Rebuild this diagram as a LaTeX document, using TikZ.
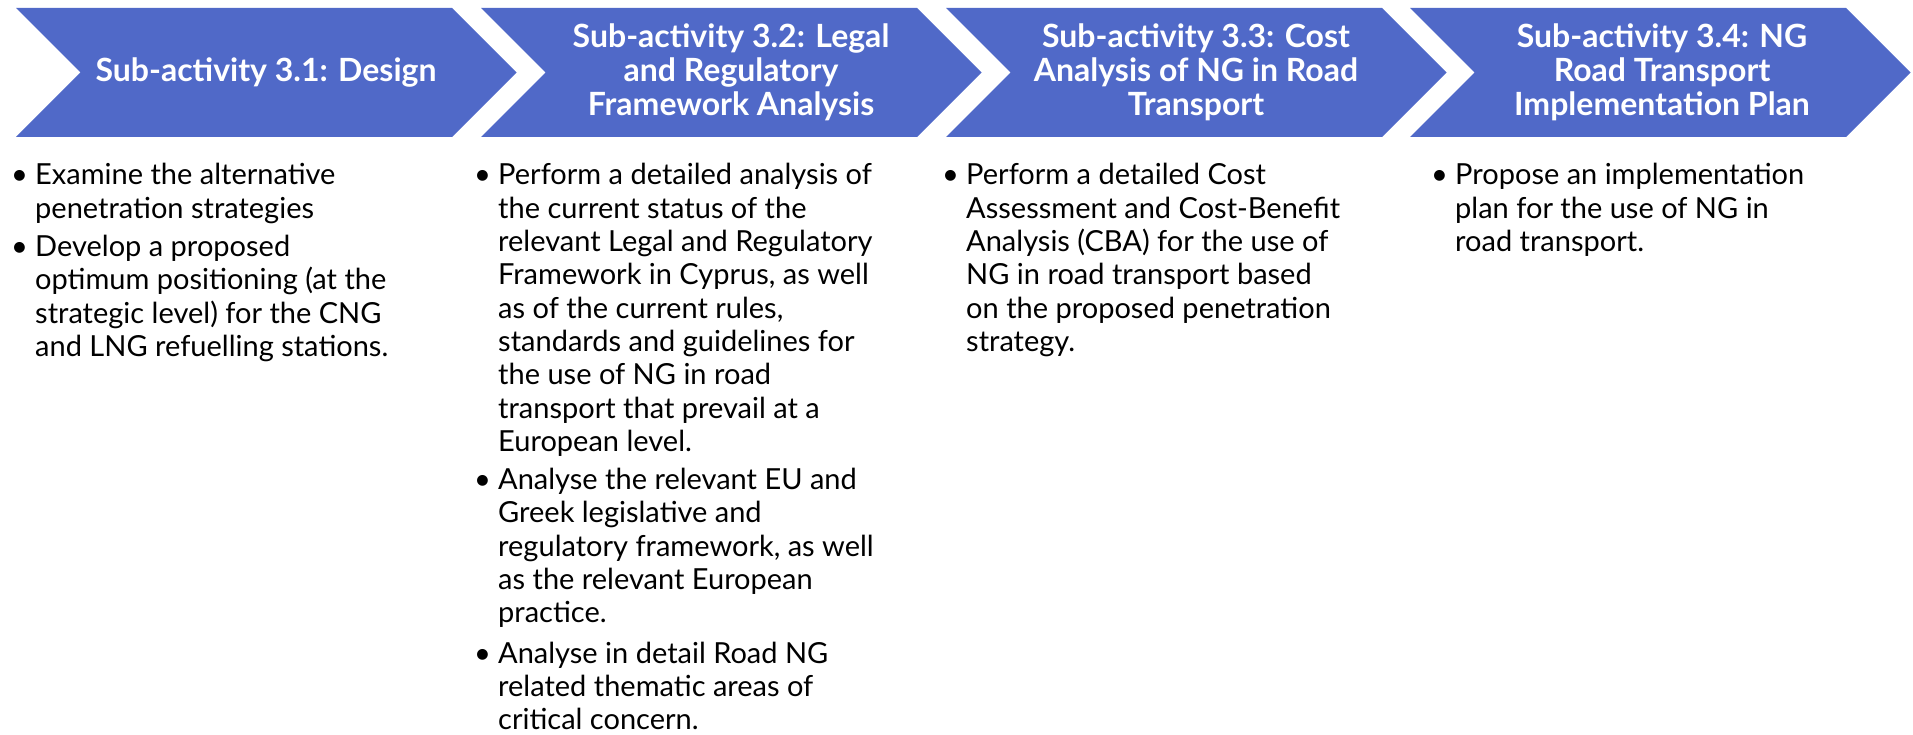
\documentclass[tikz,border=0pt]{standalone}
\usepackage{fontspec}
\setmainfont{Lato}
\usepackage{xcolor}
\definecolor{chevblue}{RGB}{80,105,200}

\newcommand{\chev}[1]{\fill[chevron] (#1,8) -- ++(436,0) -- ++(64.5,64.5) -- ++(-64.5,64.5) -- ++(-436,0) -- ++(64.5,-64.5) -- cycle;}
\newcommand{\itm}{\textbullet}

\begin{document}
\begin{tikzpicture}[
    x=1pt, y=-1pt,
    chevron/.style={fill=chevblue},
    head/.style={text=white, align=center, inner sep=0pt, font=\fontsize{32}{34}\selectfont\bfseries},
    body/.style={anchor=base west, inner sep=0pt, font=\fontsize{29}{33.3}\selectfont}
]
\useasboundingbox (0,0) rectangle (1913,735);

\chev{16}
\chev{481}
\chev{946}
\chev{1410}

\node[head] (h1) at (266,72.5) {Sub-activity 3.1: Design};
\node[head] (h2) at (731,72.5) {Sub-activity 3.2: Legal\\ and Regulatory\\ Framework Analysis};
\node[head] (h3) at (1196,72.5) {Sub-activity 3.3: Cost\\ Analysis of NG in Road\\ Transport};
\node[head] (h4) at (1662,72.5) {Sub-activity 3.4: NG\\ Road Transport\\ Implementation Plan};

\node[body] (b1) at (11,185) {\begin{tabular}[t]{@{}p{24pt}@{}l@{}}
    \itm & Examine the alternative\\
         & penetration strategies\\[5pt]
    \itm & Develop a proposed\\
         & optimum positioning (at the\\
         & strategic level) for the CNG\\
         & and LNG refuelling stations.
\end{tabular}};

\node[body] (b2) at (474,185) {\begin{tabular}[t]{@{}p{24pt}@{}l@{}}
    \itm & Perform a detailed analysis of\\
         & the current status of the\\
         & relevant Legal and Regulatory\\
         & Framework in Cyprus, as well\\
         & as of the current rules,\\
         & standards and guidelines for\\
         & the use of NG in road\\
         & transport that prevail at a\\
         & European level.\\[5pt]
    \itm & Analyse the relevant EU and\\
         & Greek legislative and\\
         & regulatory framework, as well\\
         & as the relevant European\\
         & practice.\\[7pt]
    \itm & Analyse in detail Road NG\\
         & related thematic areas of\\
         & critical concern.
\end{tabular}};

\node[body] (b3) at (942,185) {\begin{tabular}[t]{@{}p{24pt}@{}l@{}}
    \itm & Perform a detailed Cost\\
         & Assessment and Cost-Benefit\\
         & Analysis (CBA) for the use of\\
         & NG in road transport based\\
         & on the proposed penetration\\
         & strategy.
\end{tabular}};

\node[body] (b4) at (1431,185) {\begin{tabular}[t]{@{}p{24pt}@{}l@{}}
    \itm & Propose an implementation\\
         & plan for the use of NG in\\
         & road transport.
\end{tabular}};
\end{tikzpicture}
\end{document}
